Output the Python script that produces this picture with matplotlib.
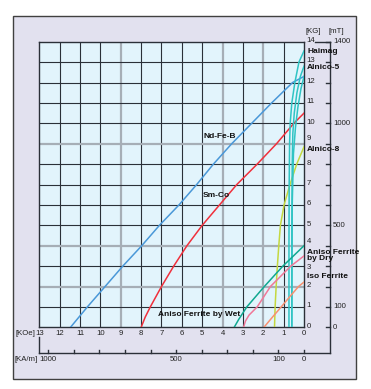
import numpy as np
import matplotlib.pyplot as plt
from matplotlib.patches import Rectangle

# demagnetization curves, H in KOe (x), B in KG (y)
ndfeb_h = [11.47, 10.64, 9.77, 8.9, 7.97, 7.1, 6.14, 5.27, 4.45, 3.55, 2.57, 1.59, 0.56, 0.0]
ndfeb_b = [0, 1, 2, 3, 4, 5, 6, 7, 8, 9, 10, 11, 12, 12.3]

smco_h = [8.0, 7.8, 7.55, 7.0, 6.4, 5.75, 5.0, 4.15, 3.3, 2.3, 1.35, 0.5, 0.0]
smco_b = [0, 0.5, 1, 2, 3, 4, 5, 6, 7, 8, 9, 10, 10.5]

wet_h = [3.43, 3.2, 2.81, 1.95, 1.04, 0.0]
wet_b = [0, 0.4, 1, 2, 3, 4]

dry_h = [2.97, 2.88, 2.7, 2.3, 1.65, 0.65, 0.0]
dry_b = [0, 0.3, 0.6, 1.0, 2.0, 3.0, 3.5]

iso_h = [1.97, 1.55, 1.12, 0.7, 0.27, 0.0]
iso_b = [0, 0.5, 1.0, 1.5, 2.0, 2.22]

alnico8_h = [1.45, 1.42, 1.37, 1.31, 1.24, 1.16, 0.98, 0.69, 0.36, 0.0]
alnico8_b = [0, 1, 2, 3, 4, 5, 6, 7, 8, 8.85]

haimag_h = [0.74, 0.74, 0.73, 0.71, 0.68, 0.6, 0.45, 0.25, 0.0]
haimag_b = [0, 4, 7, 9, 10, 11, 12, 13, 13.55]

alnico5_h = [0.6, 0.6, 0.58, 0.55, 0.48, 0.35, 0.18, 0.0]
alnico5_b = [0, 5, 8, 9.5, 10.5, 11.5, 12.3, 12.8]

third_h = [0.6, 0.58, 0.52, 0.42, 0.3, 0.15, 0.0]
third_b = [0, 6, 8.5, 9.8, 10.8, 11.7, 12.3]

koe_ticks = list(range(0, 14))
kg_ticks = list(range(0, 15))
mt_labels = {0: "0", 1: "100", 5: "500", 10: "1000", 14: "1400"}
kam_ticks = list(range(0, 1001, 100))
kam_labels = [0, 100, 500, 1000]
gray_x = [9, 4, 2]
gray_y = [9, 4, 2]

bg = "#e2e1ef"
plot_bg = "#e2f4fc"
dark = "#2b3038"
gray = "#a6aeb6"

plt.rcParams['font.family'] = ['Liberation Sans', 'DejaVu Sans']

fig = plt.figure(figsize=(3.71, 3.89), dpi=100)
fig.patches.append(Rectangle((0.0358, 0.0257), 0.9237, 0.9332, transform=fig.transFigure,
                             facecolor=bg, edgecolor="#404040", lw=1.0, zorder=-5))

ax = fig.add_axes([0.106, 0.1586, 0.7135, 0.7342])
ax.set_facecolor(plot_bg)
ax.set_xlim(13, 0)
ax.set_ylim(0, 14)
ax.set_xticks([])
ax.set_yticks([])
for s in ax.spines.values():
    s.set_color(dark)
    s.set_linewidth(1.0)

for x in range(1, 13):
    if x in gray_x:
        ax.axvline(x, color=gray, lw=1.6, zorder=1)
    else:
        ax.axvline(x, color=dark, lw=0.8, zorder=1)
for y in range(1, 14):
    if y in gray_y:
        ax.axhline(y, color=gray, lw=1.6, zorder=1)
    else:
        ax.axhline(y, color=dark, lw=0.8, zorder=1)

lw = 1.1
ax.plot(ndfeb_h, ndfeb_b, color="#4a98d8", lw=lw, zorder=3)
ax.plot(smco_h, smco_b, color="#f0303c", lw=lw, zorder=3)
ax.plot(alnico8_h, alnico8_b, color="#c4d840", lw=lw, zorder=3)
ax.plot(haimag_h, haimag_b, color="#30c4c4", lw=lw, zorder=3)
ax.plot(alnico5_h, alnico5_b, color="#30c4c4", lw=lw, zorder=3)
ax.plot(third_h, third_b, color="#30c4c4", lw=lw, zorder=3)
ax.plot(iso_h, iso_b, color="#f89070", lw=lw, zorder=3)
ax.plot(dry_h, dry_b, color="#f07898", lw=lw, zorder=3)
ax.plot(wet_h, wet_b, color="#10a890", lw=lw, zorder=3)

fs = 5.6
bold = dict(fontsize=6.0, fontweight="bold", color="#111111")
ax.text(4.13, 9.35, "Nd-Fe-B", ha="center", va="center", zorder=4, **bold)
ax.text(4.29, 6.48, "Sm-Co", ha="center", va="center", zorder=4, **bold)
ax.text(5.14, 0.62, "Aniso Ferrite by Wet", ha="center", va="center", zorder=4, **bold)

kw = dict(clip_on=False, ha="left", va="center")
ax.text(-0.16, 13.5, "Haimag", **kw, **bold)
ax.text(-0.16, 12.75, "Alnico-5", **kw, **bold)
ax.text(-0.16, 8.7, "Alnico-8", **kw, **bold)
ax.text(-0.16, 3.5, "Aniso Ferrite\nby Dry", linespacing=0.8, **kw, **bold)
ax.text(-0.16, 2.5, "Iso Ferrite", **kw, **bold)

# KG labels on right of plot
kg_pos = {9: 9.25, 4: 4.2, 3: 2.95, 13: 13.1}
for k in kg_ticks:
    ax.text(-0.12, kg_pos.get(k, k + 0.05), str(k), fontsize=fs, color="#222222", **kw)

# mT axis
mt_x = -1.277
ax.plot([mt_x, mt_x], [-1.25, 14], color=dark, lw=1.0, clip_on=False)
ax.plot([-0.54, mt_x], [14, 14], color=dark, lw=1.0, clip_on=False)
for k in kg_ticks:
    ax.plot([-1.1, mt_x], [k, k], color=dark, lw=1.0, clip_on=False)
for k, lab in mt_labels.items():
    ax.text(-1.42, k, lab, fontsize=fs, color="#222222", **kw)
ax.text(-0.46, 14.5, "[KG]", fontsize=fs, color="#222222", ha="center", va="center", clip_on=False)
ax.text(-1.6, 14.5, "[mT]", fontsize=fs, color="#222222", ha="center", va="center", clip_on=False)

# KOe labels
for k in koe_ticks:
    ax.text(k, -0.3, str(k), fontsize=fs, color="#222222", ha="center", va="center", clip_on=False)
ax.text(13.2, -0.3, "[KOe]", fontsize=fs, color="#222222", ha="right", va="center", clip_on=False)

# KA/m axis
ka_y = -1.25
ax.plot([13, mt_x], [ka_y, ka_y], color=dark, lw=1.0, clip_on=False)
ax.plot([13, 13], [-0.48, ka_y], color=dark, lw=1.0, clip_on=False)
for v in kam_ticks:
    h = v * 4 * np.pi / 1000
    ax.plot([h, h], [ka_y, -1.09], color=dark, lw=1.0, clip_on=False)
for v in kam_labels:
    h = v * 4 * np.pi / 1000
    ax.text(h, -1.57, str(v), fontsize=fs, color="#222222", ha="center", va="center", clip_on=False)
ax.text(13.07, -1.57, "[KA/m]", fontsize=fs, color="#222222", ha="right", va="center", clip_on=False)

fig.savefig("out.png", dpi=100)
